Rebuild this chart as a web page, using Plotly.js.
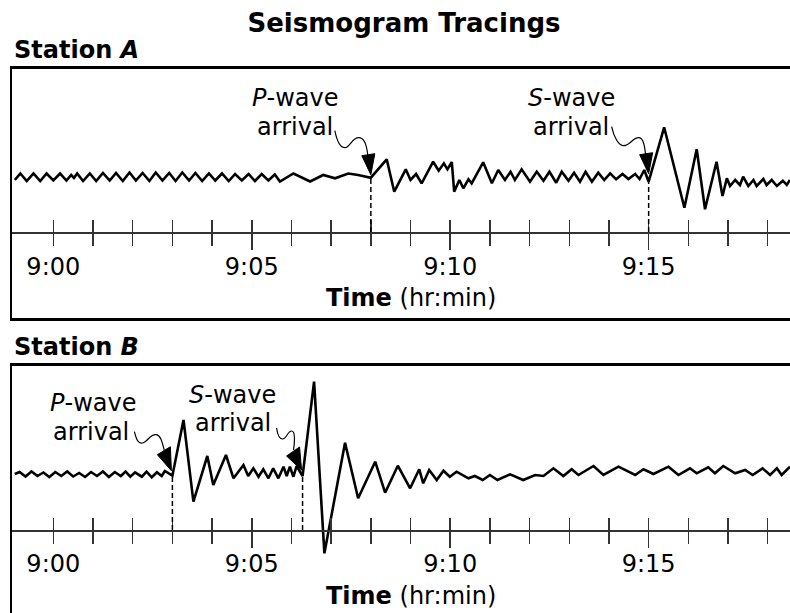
<!DOCTYPE html>
<html><head><meta charset="utf-8">
<script src="https://cdn.plot.ly/plotly-3.0.1.min.js"></script>
<style>html,body{margin:0;padding:0;background:#fff}#chart{width:790px;height:613px}</style>
</head><body><div id="chart"></div>
<script>
// ---- DATA (time in minutes after 9:00, amplitude in arbitrary trace units above the time axis) ----
const timeA = [-0.97,-0.83,-0.67,-0.50,-0.33,-0.17,0.00,0.17,0.33,0.45,0.52,0.60,0.75,0.92,1.08,1.25,1.42,1.58,1.75,1.92,2.08,2.25,2.42,2.58,2.75,2.92,3.08,3.25,3.42,3.58,3.75,3.92,4.08,4.25,4.42,4.58,4.75,4.92,5.08,5.25,5.42,5.58,5.71,6.05,6.47,6.80,7.10,7.43,7.68,
  8.00,8.40,8.59,8.88,9.00,9.14,9.28,9.57,9.71,9.84,9.93,10.04,10.10,10.23,10.33,10.46,10.54,10.83,11.05,11.21,11.38,11.52,11.63,11.80,12.01,12.18,12.35,12.50,12.67,12.81,12.98,13.12,13.27,13.41,13.57,13.73,13.88,14.03,14.18,14.34,14.49,14.66,14.77,14.89,
  15.00,15.39,15.90,16.21,16.42,16.71,16.86,16.97,17.05,17.18,17.30,17.38,17.51,17.64,17.72,17.89,17.97,18.10,18.23,18.38,18.48,18.56];
const ampA = [52,58.5,51,58.5,51,58.5,51.5,58.5,51.5,57,54,58.5,51,58.5,51,59,51.5,59,51,59.5,51.5,59,51,59.5,51.5,59,51,59.5,51.5,59,51,58.5,51.5,58.5,51,58,51.5,58,51,58,51.5,57.5,50.5,58.5,50.5,57,53.7,58.5,57,
  54.3,72.7,40.3,62.7,52,58,48.7,70.3,61.3,68.7,62.7,70,40.3,52,43.7,52.7,48.7,69.7,48.7,62,52,60.3,52,62.7,50.3,60.3,51.3,60.3,49.3,60.3,51.3,59.3,50.3,60.3,50.3,59.3,52,58.7,52.7,58,53,58,53,62,
  50.3,104.7,24.3,82.7,22.7,70.3,36,53.7,46,52,47,55.3,46,52,46,53,47,52,46,51.3,47,52];

const timeB = [-0.97,-0.85,-0.70,-0.55,-0.40,-0.25,-0.10,0.05,0.20,0.35,0.50,0.65,0.80,0.95,1.10,1.25,1.40,1.55,1.70,1.82,1.94,2.06,2.23,2.35,2.48,2.61,2.73,2.81,
  3.00,3.28,3.53,3.88,4.03,4.35,4.54,4.79,4.91,5.04,5.17,5.29,5.42,5.54,5.67,5.80,5.88,5.96,6.05,6.13,
  6.28,6.57,6.83,7.35,7.68,8.11,8.36,8.68,8.99,9.22,9.32,9.47,9.66,9.83,9.99,10.16,10.46,10.62,10.82,11.00,11.19,11.51,11.84,12.14,12.35,12.60,12.85,13.06,13.23,13.61,13.86,14.24,14.66,14.87,15.12,15.50,15.75,16.04,16.21,16.50,16.67,16.88,17.18,17.43,17.62,17.87,18.06,18.23,18.35,18.56];
const ampB = [56,58,53.5,58.5,54,57.5,53,58,54,58.5,53.5,57,53,58,54,58.5,53,58,54,58.5,53.3,57.7,53.3,58.3,52.7,57.7,54,59,
  54.3,110,28.3,74,45,75,51.7,65,54,61.7,53.3,60.7,51.7,61.7,51.7,63.3,54,63.3,53.3,64,
  54,148.3,-23.3,87.3,31.7,68.3,37.3,64.3,41.7,60.7,46.7,60,50,59.3,53.3,58.3,51.7,54,50,55,50,55.7,50,55,54,61.7,54,60.7,55,64,55,63.3,55,60.7,56,63.3,55,61.7,56.7,62.7,56.7,64,56.7,60,55,61.7,55,61.7,55,63.3];

const minuteTicks = [0,1,2,3,4,5,6,7,8,9,10,11,12,13,14,15,16,17,18];
const minuteLabels = ['9:00','','','','','9:05','','','','','9:10','','','','','9:15','','',''];
const majorTicks = [5,10,15];
const waveLabels = ['P','S'];
const arrivalsA = [8.00, 15.00];
const arrivalsB = [3.00, 6.28];

// ---- LAYOUT HELPERS ----
const W = 790, H = 613;
const FONT = 'DejaVu Sans, Liberation Sans, Arial, sans-serif';
const px = v => v / W;
const py = v => 1 - v / H;
const XR = [-1.041, 18.561];
const XDOM = [px(12), 1];

function ampAt(ts, ys, t) { return ys[ts.indexOf(t)]; }

const traces = [
  {x: timeA, y: ampA, xaxis: 'x', yaxis: 'y', mode: 'lines', line: {color: '#000', width: 2.6}, hoverinfo: 'skip', name: 'Station A'},
  {x: timeB, y: ampB, xaxis: 'x2', yaxis: 'y2', mode: 'lines', line: {color: '#000', width: 2.6}, hoverinfo: 'skip', name: 'Station B'}
];
// empty traces so overlay tick axes get a subplot
['x3','x5','x7'].forEach(a => traces.push({x: [], y: [], xaxis: a, yaxis: 'y', mode: 'lines', hoverinfo: 'skip', showlegend: false}));
['x4','x6','x8'].forEach(a => traces.push({x: [], y: [], xaxis: a, yaxis: 'y2', mode: 'lines', hoverinfo: 'skip', showlegend: false}));

function borderX(anchor, side, mirror) {
  return {domain: XDOM, range: XR, anchor: anchor, side: side, showline: true, mirror: mirror, linewidth: 2.5, linecolor: '#000',
          ticks: '', showticklabels: false, showgrid: false, zeroline: false, fixedrange: true};
}
function borderY(anchor, dom, rng) {
  return {domain: dom, range: rng, anchor: anchor, showline: true, mirror: false, linewidth: 2.5, linecolor: '#000',
          ticks: '', showticklabels: false, showgrid: false, zeroline: false, fixedrange: true};
}
function labelAxis(over, pos, standoff) {
  return {overlaying: over, anchor: 'free', position: pos, range: XR, showline: true, linecolor: '#333', linewidth: 1.6,
          ticks: 'outside', ticklen: 12, tickwidth: 1.5, tickcolor: '#333', tickmode: 'array', tickvals: minuteTicks, ticktext: minuteLabels,
          ticklabelstandoff: standoff, tickfont: {family: FONT, size: 24, color: '#000'}, showgrid: false, zeroline: false, fixedrange: true};
}
function insideAxis(over, pos) {
  return {overlaying: over, anchor: 'free', position: pos, range: XR, showline: false, ticks: 'inside', ticklen: 12, tickwidth: 1.5, tickcolor: '#333',
          tickmode: 'array', tickvals: minuteTicks, showticklabels: false, showgrid: false, zeroline: false, fixedrange: true};
}
function majorAxis(over, pos) {
  return {overlaying: over, anchor: 'free', position: pos, range: XR, showline: false, ticks: 'outside', ticklen: 17, tickwidth: 1.5, tickcolor: '#333',
          tickmode: 'array', tickvals: majorTicks, showticklabels: false, showgrid: false, zeroline: false, fixedrange: true};
}

const axisA = py(232), axisB = py(530);

const layout = {
  width: W, height: H, margin: {l: 0, r: 0, t: 0, b: 0, pad: 0},
  paper_bgcolor: '#fff', plot_bgcolor: 'rgba(0,0,0,0)', showlegend: false,
  font: {family: FONT, color: '#000'},
  title: {text: '<b>Seismogram Tracings</b>', font: {family: FONT, size: 26, color: '#000'}, x: px(404), xanchor: 'center', xref: 'paper', y: py(23), yanchor: 'middle', yref: 'container'},
  xaxis: borderX('y', 'bottom', true),
  yaxis: borderY('x', [py(318), py(68.7)], [-86, 163.3]),
  xaxis2: borderX('y2', 'top', false),
  yaxis2: borderY('x2', [0, py(365.5)], [-83, 164.5]),
  xaxis3: labelAxis('x', axisA, 1), xaxis5: insideAxis('x', axisA), xaxis7: majorAxis('x', axisA),
  xaxis4: labelAxis('x2', axisB, 0), xaxis6: insideAxis('x2', axisB), xaxis8: majorAxis('x2', axisB),
  annotations: [], shapes: []
};

function addText(text, cx, cy, opts) {
  layout.annotations.push(Object.assign({text: text, xref: 'paper', yref: 'paper', x: px(cx), y: py(cy), xanchor: 'center', yanchor: 'middle',
    showarrow: false, font: {family: FONT, size: 24, color: '#000'}}, opts || {}));
}
addText('<b>Station <i>A</i></b>', 12, 50, {xanchor: 'left'});
addText('<b>Station <i>B</i></b>', 12, 347, {xanchor: 'left'});
addText('<b>Time</b> (hr:min)', 411, 298);
addText('<b>Time</b> (hr:min)', 411, 596);

// wave labels: [centerX of first line, centerY of first line, centerY of second line, centerX of second line]
const labelPos = {A: [[294.5, 98, 126.5, 295], [571.5, 98, 127, 571]], B: [[93, 403, 431.5, 91], [232.5, 395, 423, 232.5]]};
['A','B'].forEach(st => {
  labelPos[st].forEach((p, i) => {
    addText('<i>' + waveLabels[i] + '</i>-wave', p[0], p[1]);
    addText('arrival', p[3], p[2]);
  });
});

// curly arrows (pixel offsets relative to the arrival point) and dashed arrival markers
const arrowStyles = {
  A: [
    {curve: 'M -36 47 C -34 37 -31 30 -26 30 C -21 30 -19 40 -12 40 C -6 40 -4 32 -3 22', head: 'M -9 22 L 4 24 L 0 3 Z'},
    {curve: 'M -37 55 C -35 45 -30 36 -25 36 C -19 36 -16 44 -10 44 C -5 44 -4 35 -3 27', head: 'M -9 27 L 4 29 L 0 8 Z'}
  ],
  B: [
    {curve: 'M -38 44 C -36 36 -34 31 -29 33 C -24 35 -22 42 -16 41 C -11 40 -10 32 -8 25', head: 'M -15 21 L -2 29 L -1 5 Z'},
    {curve: 'M -26 48 C -25 41 -23 37 -20 37 C -16 37 -15 45 -11 45 C -7 45 -8 34 -9 26', head: 'M -16 20 L -3 29 L -1 6 Z'}
  ]
};
function addArrival(st, xr, yr, ts, ys, t, i) {
  const a = ampAt(ts, ys, t);
  layout.shapes.push({type: 'line', xref: xr, yref: yr, x0: t, x1: t, y0: 0, y1: a, line: {color: '#000', width: 1.5, dash: '5px,3px'}, layer: 'above'});
  const s = arrowStyles[st][i];
  layout.shapes.push({type: 'path', xref: xr, yref: yr, xsizemode: 'pixel', ysizemode: 'pixel', xanchor: t, yanchor: a, path: s.curve,
    line: {color: '#000', width: 1.2}, layer: 'above'});
  layout.shapes.push({type: 'path', xref: xr, yref: yr, xsizemode: 'pixel', ysizemode: 'pixel', xanchor: t, yanchor: a, path: s.head,
    line: {color: '#000', width: 1}, fillcolor: '#000', layer: 'above'});
}
arrivalsA.forEach((t, i) => addArrival('A', 'x', 'y', timeA, ampA, t, i));
arrivalsB.forEach((t, i) => addArrival('B', 'x2', 'y2', timeB, ampB, t, i));

Plotly.newPlot('chart', traces, layout, {staticPlot: true, displayModeBar: false});
</script>
</body></html>
